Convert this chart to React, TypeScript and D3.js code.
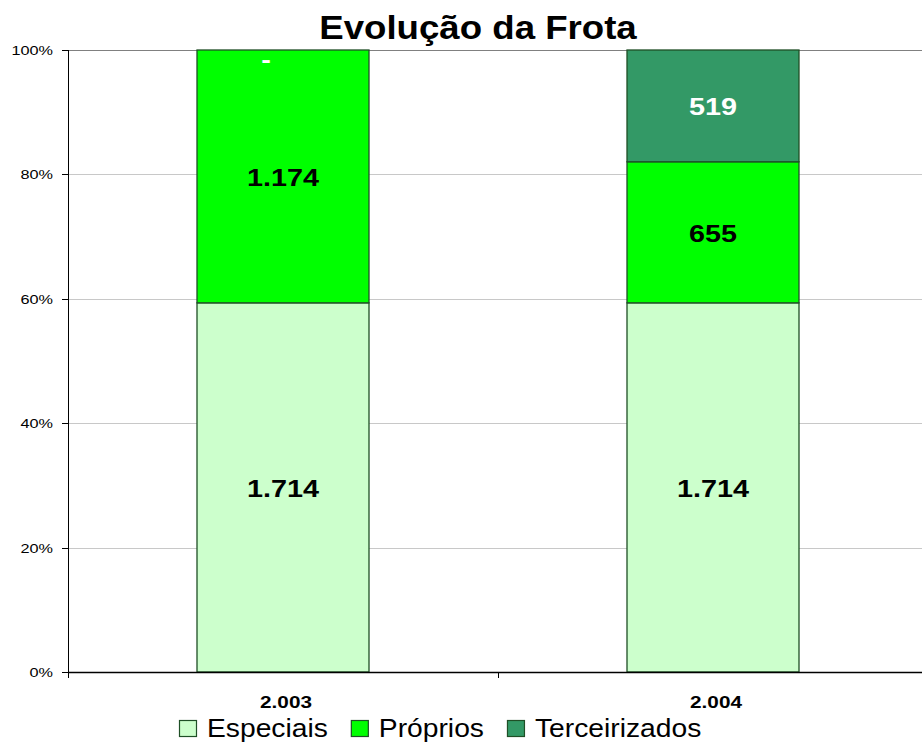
import { useEffect, useRef } from 'react';
import * as d3 from 'd3';

const categories = ['2.003', '2.004'];
const seriesNames = ['Especiais', 'Próprios', 'Terceirizados'];
const especiais = [1714, 1714];
const proprios = [1174, 655];
const terceirizados = [0, 519];
const yTicks = [0, 0.2, 0.4, 0.6, 0.8, 1];

const colors = ['#CCFFCC', '#00FF00', '#339966'];
const labelColors = ['#000000', '#000000', '#FFFFFF'];

const fmt = (v: number) => (v === 0 ? '-' : d3.format(',')(v).replace(/,/g, '.'));

export default function App() {
  const svgRef = useRef<SVGSVGElement>(null);
  const width = 922;
  const height = 743;

  useEffect(() => {
    if (!svgRef.current) return;
    const svg = d3.select(svgRef.current);
    svg.selectAll('*').remove();

    const margin = { top: 50, right: -6, bottom: 71, left: 68 };
    const x0 = margin.left;
    const x1 = width - margin.right;
    const y0 = height - margin.bottom;

    const x = d3.scaleBand<string>()
      .domain(categories)
      .range([x0, x1])
      .paddingInner(0.6)
      .paddingOuter(0.3);

    const y = d3.scaleLinear().domain([0, 1]).range([y0, margin.top]);

    // rows for stacking, as shares of each year's total
    const rows = categories.map((c, i) => {
      const vals = [especiais[i], proprios[i], terceirizados[i]];
      const total = d3.sum(vals);
      return { cat: c, vals, shares: vals.map(v => v / total) };
    });
    const stack = d3.stack<typeof rows[0], number>()
      .keys([0, 1, 2])
      .value((d, k) => d.shares[k]);
    const stacked = stack(rows);

    // Gridlines
    svg.append('g')
      .selectAll('line')
      .data(yTicks.filter(t => t > 0))
      .join('line')
      .attr('x1', x0).attr('x2', width)
      .attr('y1', d => Math.round(y(d)) + 0.5)
      .attr('y2', d => Math.round(y(d)) + 0.5)
      .attr('stroke', d => (d === 1 ? '#808080' : '#c8c8c8'))
      .attr('stroke-width', 1);

    // Bars
    stacked.forEach((layer, k) => {
      svg.append('g')
        .selectAll('rect')
        .data(layer)
        .join('rect')
        .attr('x', d => x(d.data.cat)!)
        .attr('width', x.bandwidth())
        .attr('y', d => y(d[1]))
        .attr('height', d => y(d[0]) - y(d[1]))
        .attr('fill', colors[k])
        .attr('stroke', '#1f4f26')
        .attr('stroke-width', d => (d[1] - d[0] > 0 ? 1.3 : 0));
    });

    // Y axis
    svg.append('line')
      .attr('x1', x0 + 0.5).attr('x2', x0 + 0.5)
      .attr('y1', margin.top).attr('y2', y0 + 6)
      .attr('stroke', '#000');
    const yt = svg.append('g');
    yTicks.forEach(t => {
      const py = Math.round(y(t)) + 0.5;
      yt.append('line')
        .attr('x1', x0 - 6).attr('x2', x0)
        .attr('y1', py).attr('y2', py)
        .attr('stroke', '#000');
      yt.append('text')
        .attr('transform', `translate(53,${py + 4.5}) scale(1.25,1)`)
        .attr('text-anchor', 'end')
        .attr('font-family', 'Liberation Sans, Arial, sans-serif')
        .attr('font-size', 13)
        .attr('fill', '#000')
        .text(`${Math.round(t * 100)}%`);
    });

    // X axis
    svg.append('line')
      .attr('x1', x0).attr('x2', width)
      .attr('y1', y0 + 0.5).attr('y2', y0 + 0.5)
      .attr('stroke', '#000')
      .attr('stroke-width', 1.3);
    categories.forEach((c, i) => {
      const bx = x0 + i * x.step();
      if (i > 0) {
        svg.append('line')
          .attr('x1', bx + 0.5).attr('x2', bx + 0.5)
          .attr('y1', y0).attr('y2', y0 + 6)
          .attr('stroke', '#000');
      }
      svg.append('text')
        .attr('transform', `translate(${x(c)! + x.bandwidth() / 2 + 3},708) scale(1.22,1)`)
        .attr('text-anchor', 'middle')
        .attr('font-family', 'Liberation Sans, Arial, sans-serif')
        .attr('font-weight', 'bold')
        .attr('font-size', 17)
        .attr('fill', '#000')
        .text(c);
    });

    // Data labels
    stacked.forEach((layer, k) => {
      layer.forEach((d, i) => {
        const v = rows[i].vals[k];
        const cx = x(d.data.cat)! + x.bandwidth() / 2;
        const mid = (y(d[0]) + y(d[1])) / 2;
        const cy = Math.max(mid, margin.top + 8);
        svg.append('text')
          .attr('transform', `translate(${v === 0 ? cx - 17 : cx},${cy + 9.5}) scale(1.2,1)`)
          .attr('text-anchor', 'middle')
          .attr('font-family', 'Liberation Sans, Arial, sans-serif')
          .attr('font-weight', 'bold')
          .attr('font-size', 24)
          .attr('fill', labelColors[k])
          .text(fmt(v));
      });
    });

    // Title
    svg.append('text')
      .attr('transform', 'translate(478,39) scale(1.11,1)')
      .attr('text-anchor', 'middle')
      .attr('font-family', 'Liberation Sans, Arial, sans-serif')
      .attr('font-weight', 'bold')
      .attr('font-size', 33)
      .attr('fill', '#000')
      .text('Evolução da Frota');

    // Legend
    let lx = 179;
    seriesNames.forEach((name, k) => {
      svg.append('rect')
        .attr('x', lx + 0.5).attr('y', 720.5)
        .attr('width', 17).attr('height', 16)
        .attr('fill', colors[k])
        .attr('stroke', '#1f4f26')
        .attr('stroke-width', 1.2);
      const t = svg.append('text')
        .attr('transform', `translate(${lx + 28},737) scale(1.13,1)`)
        .attr('font-family', 'Liberation Sans, Arial, sans-serif')
        .attr('font-size', 25)
        .attr('fill', '#000')
        .text(name);
      const w = (t.node() as SVGTextElement).getComputedTextLength() * 1.13;
      lx += 28 + w + 23;
    });
  }, []);

  return (
    <svg
      ref={svgRef}
      width={width}
      height={height}
      style={{ position: 'absolute', left: 0, top: 0, background: '#fff' }}
    />
  );
}
